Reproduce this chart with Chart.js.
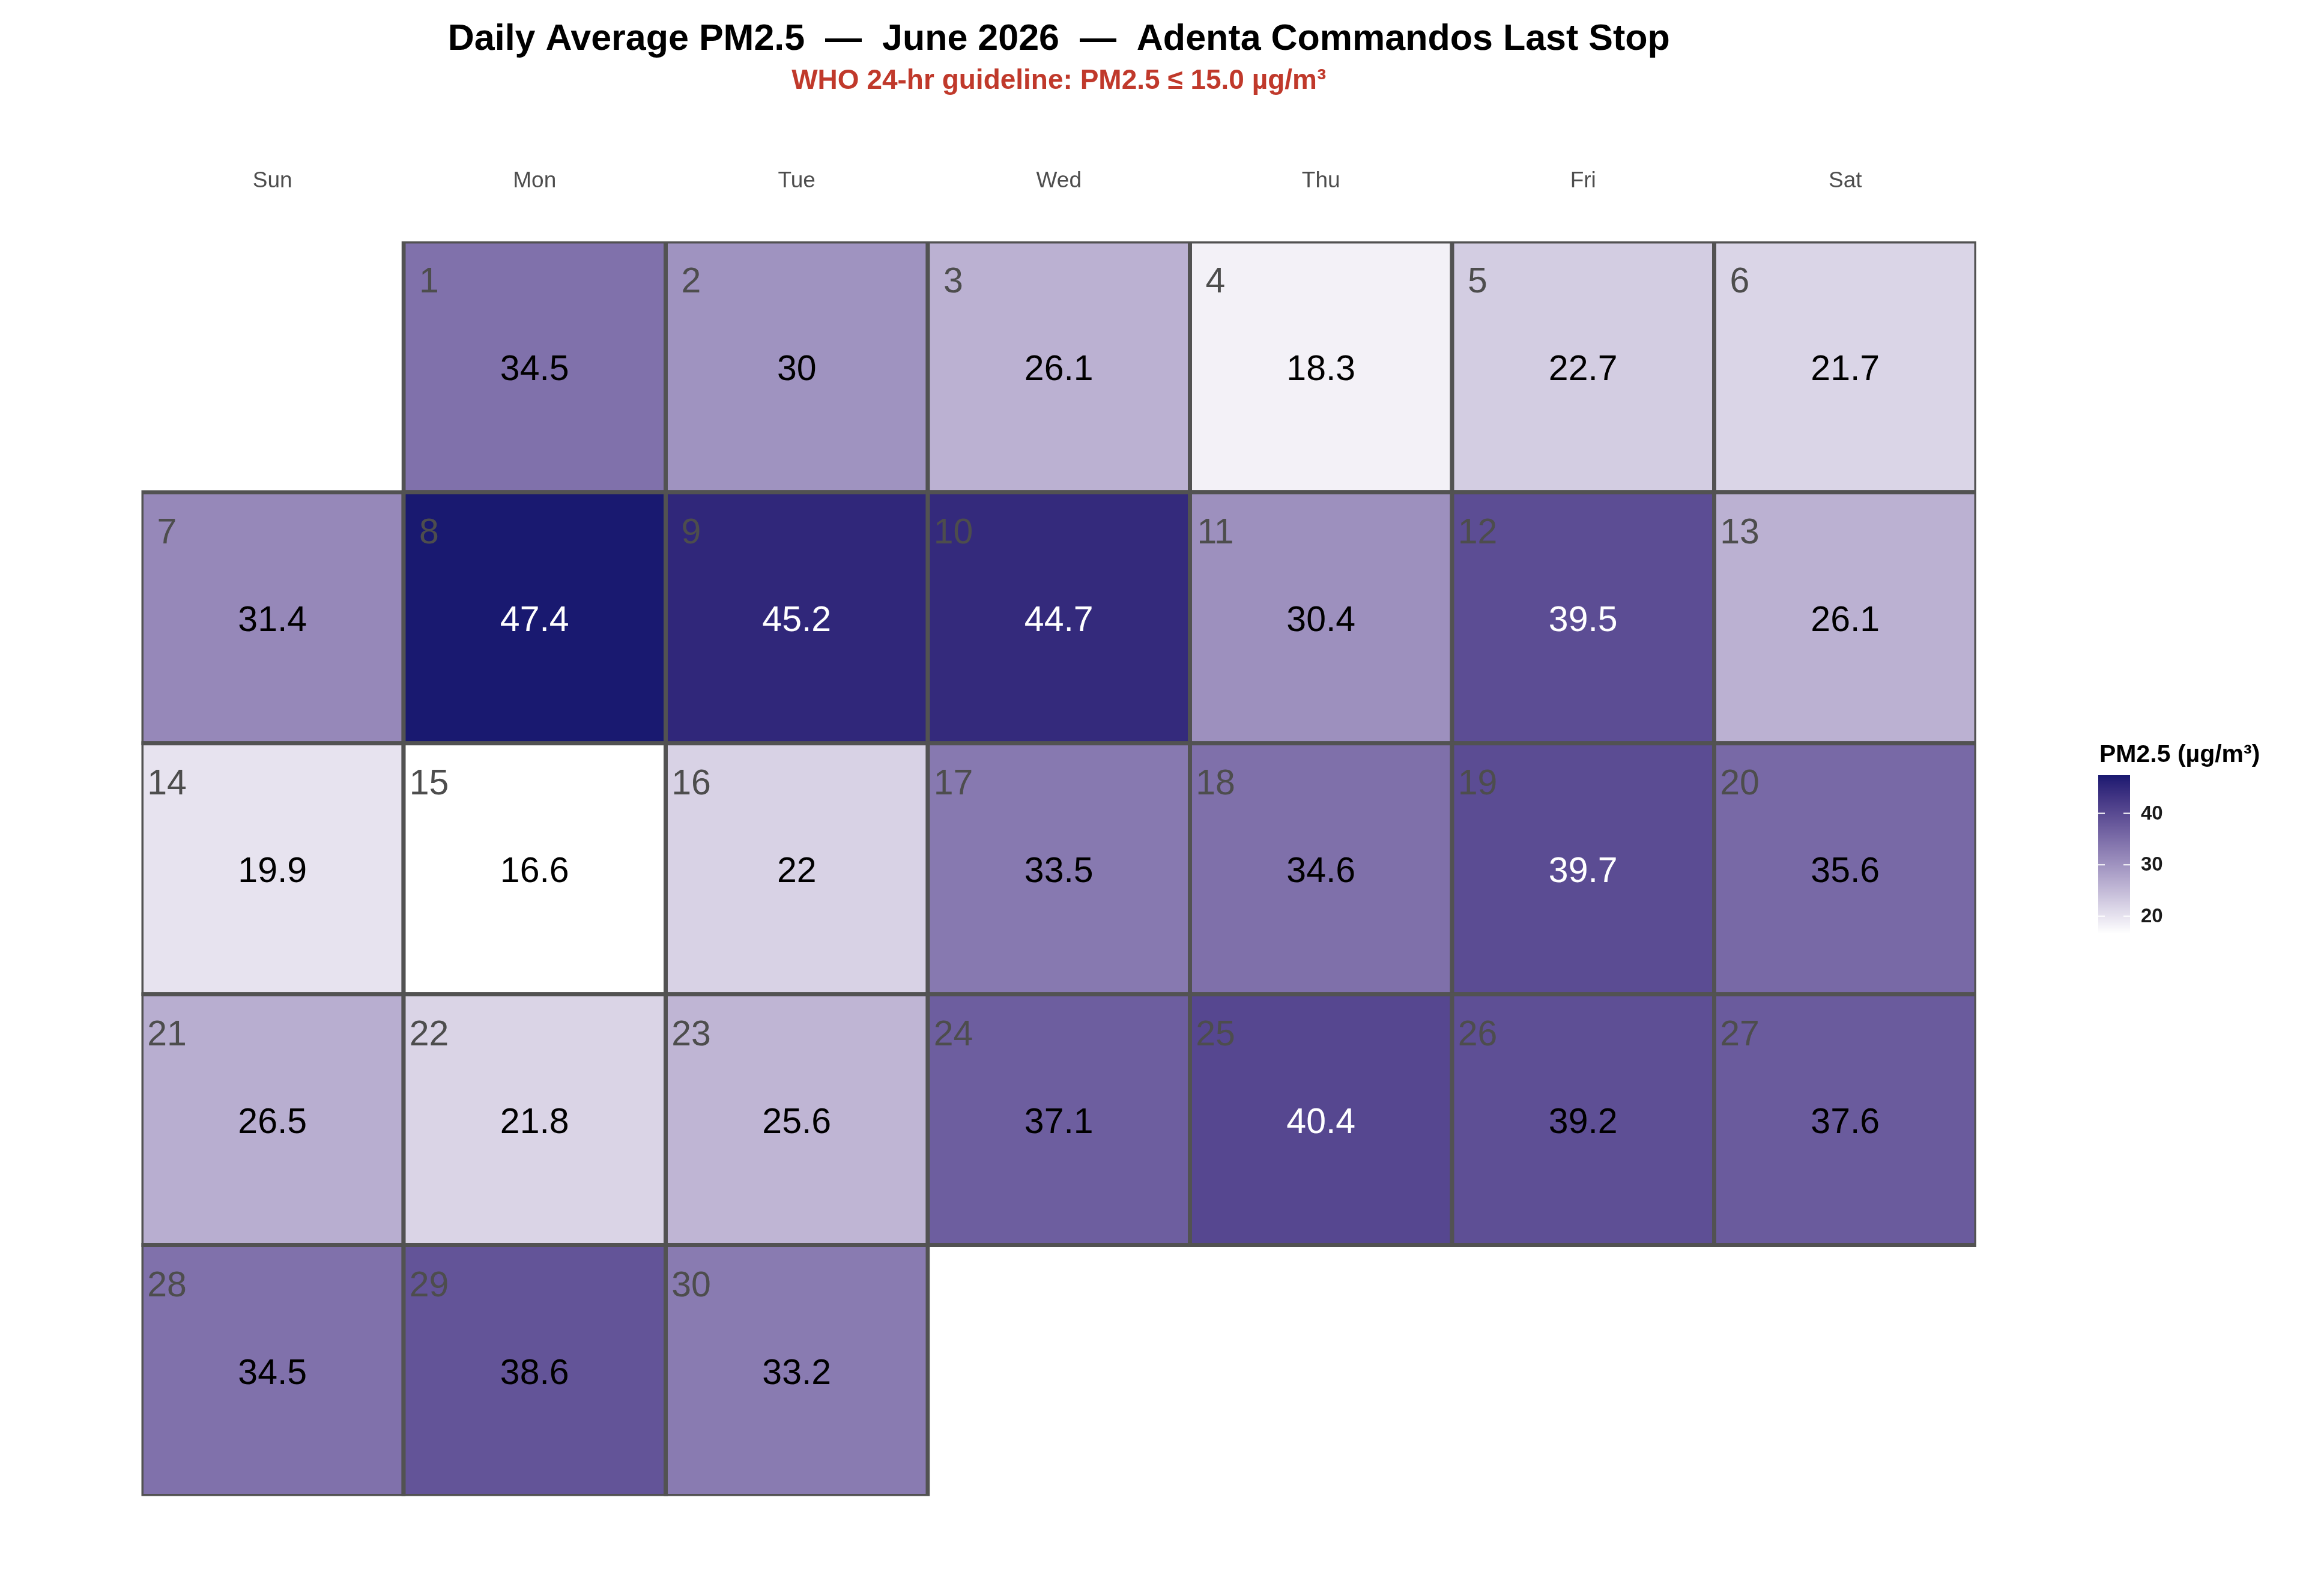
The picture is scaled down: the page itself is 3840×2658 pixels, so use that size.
<!DOCTYPE html>
<html><head><meta charset="utf-8">
<script src="https://cdn.jsdelivr.net/npm/chart.js@4.4.1/dist/chart.umd.min.js"></script>
<style>html,body{margin:0;padding:0;background:#fff}canvas{display:block}</style>
</head><body>
<canvas id="c" width="3840" height="2658" style="width:3840px;height:2658px"></canvas>
<script>
// ---- data ----
const weekdays = ['Sun', 'Mon', 'Tue', 'Wed', 'Thu', 'Fri', 'Sat'];
const days = [1,2,3,4,5,6,7,8,9,10,11,12,13,14,15,16,17,18,19,20,21,22,23,24,25,26,27,28,29,30];
const pm25 = [34.5, 30, 26.1, 18.3, 22.7, 21.7,
              31.4, 47.4, 45.2, 44.7, 30.4, 39.5, 26.1,
              19.9, 16.6, 22, 33.5, 34.6, 39.7, 35.6,
              26.5, 21.8, 25.6, 37.1, 40.4, 39.2, 37.6,
              34.5, 38.6, 33.2];
const colorbarTicks = [20, 30, 40];
const firstWeekday = 1; // 1 June 2026 is a Monday
const titleText = 'Daily Average PM2.5  \u2014  June 2026  \u2014  Adenta Commandos Last Stop';
const subtitleText = 'WHO 24-hr guideline: PM2.5 \u2264 15.0 \u00b5g/m\u00b3';
const legendTitle = 'PM2.5 (\u00b5g/m\u00b3)';
const whiteTextThreshold = 39.4;

// ---- colour scale (Lab interpolation white -> midnightblue) ----
const LOW = [255,255,255], HIGH = [25,25,112];
function toLin(c){c/=255;return c<=0.04045?c/12.92:Math.pow((c+0.055)/1.055,2.4);}
function fromLin(c){const v=c<=0.0031308?12.92*c:1.055*Math.pow(c,1/2.4)-0.055;return Math.max(0,Math.min(255,Math.round(v*255)));}
const Xn=0.95047,Yn=1,Zn=1.08883;
function f(t){return t>0.008856?Math.cbrt(t):(7.787*t+16/116);}
function fi(t){return t>0.206893?t*t*t:(t-16/116)/7.787;}
function rgb2lab(c){const r=toLin(c[0]),g=toLin(c[1]),b=toLin(c[2]);
  const X=(0.4124*r+0.3576*g+0.1805*b)/Xn,Y=(0.2126*r+0.7152*g+0.0722*b)/Yn,Z=(0.0193*r+0.1192*g+0.9505*b)/Zn;
  const fx=f(X),fy=f(Y),fz=f(Z);return [116*fy-16,500*(fx-fy),200*(fy-fz)];}
function lab2rgb(l){const fy=(l[0]+16)/116,fx=fy+l[1]/500,fz=fy-l[2]/200;
  const X=fi(fx)*Xn,Y=fi(fy)*Yn,Z=fi(fz)*Zn;
  const r=3.2406*X-1.5372*Y-0.4986*Z,g=-0.9689*X+1.8758*Y+0.0415*Z,b=0.0557*X-0.2040*Y+1.0570*Z;
  return [fromLin(r),fromLin(g),fromLin(b)];}
const labLow=rgb2lab(LOW),labHigh=rgb2lab(HIGH);
const vMin=Math.min(...pm25),vMax=Math.max(...pm25);
function colorFor(v){const t=Math.max(0,Math.min(1,(v-vMin)/(vMax-vMin)));
  const l=[0,1,2].map(i=>labLow[i]+(labHigh[i]-labLow[i])*t);const c=lab2rgb(l);return `rgb(${c[0]},${c[1]},${c[2]})`;}

// ---- build cells ----
const cells = days.map((d,i)=>{
  const k = firstWeekday + d - 1;
  const week = Math.floor(k/7);
  return {x: weekdays[k%7], y: [week, week+1], v: pm25[i], day: d};
});
const nWeeks = Math.max(...cells.map(c=>c.y[1]));

const FONT = "'Liberation Sans', Arial, Helvetica, sans-serif";
Chart.defaults.font.family = FONT;

const cellLabels = {
  id:'cellLabels',
  afterDatasetsDraw(chart){
    const ctx=chart.ctx, meta=chart.getDatasetMeta(0), data=chart.data.datasets[0].data;
    ctx.save();
    meta.data.forEach((el,i)=>{
      const p=el.getProps(['x','y','base','width'],true);
      const left=p.x-p.width/2, top=Math.min(p.y,p.base), bottom=Math.max(p.y,p.base);
      const cy=(top+bottom)/2;
      ctx.textAlign='center'; ctx.textBaseline='alphabetic';
      ctx.font=`59px ${FONT}`;
      ctx.fillStyle='#4d4d4d';
      ctx.fillText(String(data[i].day), left+42.5, top+85);
      ctx.fillStyle = data[i].v > whiteTextThreshold ? '#ffffff' : '#000000';
      ctx.fillText(String(data[i].v), p.x, cy+22);
    });
    ctx.restore();
  }
};

const colorbar = {
  id:'colorbar',
  afterDraw(chart){
    const ctx=chart.ctx;
    const L=3494, T=1291, W=53, H=264, B=T+H;
    ctx.save();
    for(let i=0;i<H;i++){
      const v=vMin+(vMax-vMin)*(1-(i+0.5)/H);
      ctx.fillStyle=colorFor(v);
      ctx.fillRect(L,T+i,W,1.2);
    }
    ctx.strokeStyle='#ffffff'; ctx.lineWidth=2;
    ctx.font=`bold 33px ${FONT}`; ctx.fillStyle='#1a1a1a'; ctx.textAlign='left'; ctx.textBaseline='middle';
    colorbarTicks.forEach(t=>{
      const y=B-(t-vMin)/(vMax-vMin)*H;
      ctx.beginPath(); ctx.moveTo(L,y); ctx.lineTo(L+11,y); ctx.moveTo(L+W-11,y); ctx.lineTo(L+W,y); ctx.stroke();
      ctx.fillText(String(t), 3565, y+1);
    });
    ctx.font=`bold 41px ${FONT}`; ctx.fillStyle='#000000'; ctx.textBaseline='alphabetic';
    ctx.fillText(legendTitle, 3496, 1269);
    ctx.restore();
  }
};

new Chart(document.getElementById('c'), {
  type:'bar',
  data:{
    labels: weekdays,
    datasets:[{
      data: cells,
      backgroundColor: cells.map(c=>colorFor(c.v)),
      borderColor:'#525252',
      borderWidth:7,
      borderSkipped:false,
      inflateAmount:3.5,
      categoryPercentage:1,
      barPercentage:1
    }]
  },
  options:{
    responsive:false,
    devicePixelRatio:1,
    animation:false,
    layout:{padding:{left:235.5,right:549,top:0,bottom:166.5}},
    plugins:{
      legend:{display:false},
      tooltip:{enabled:false},
      title:{display:true,text:titleText,color:'#000000',font:{size:61,weight:'bold'},padding:{top:30,bottom:0}},
      subtitle:{display:true,text:subtitleText,color:'#c0392b',font:{size:46,weight:'bold'},padding:{top:5,bottom:0}}
    },
    scales:{
      x:{
        type:'category', position:'top', offset:true,
        grid:{display:false,drawTicks:false,tickLength:0},
        border:{display:false},
        ticks:{color:'#4d4d4d',font:{size:37},padding:78},
        afterFit(s){ s.height = 238.5; }
      },
      y:{
        type:'linear', min:0, max:nWeeks, reverse:true, display:false
      }
    }
  },
  plugins:[cellLabels, colorbar]
});
</script>
</body></html>
